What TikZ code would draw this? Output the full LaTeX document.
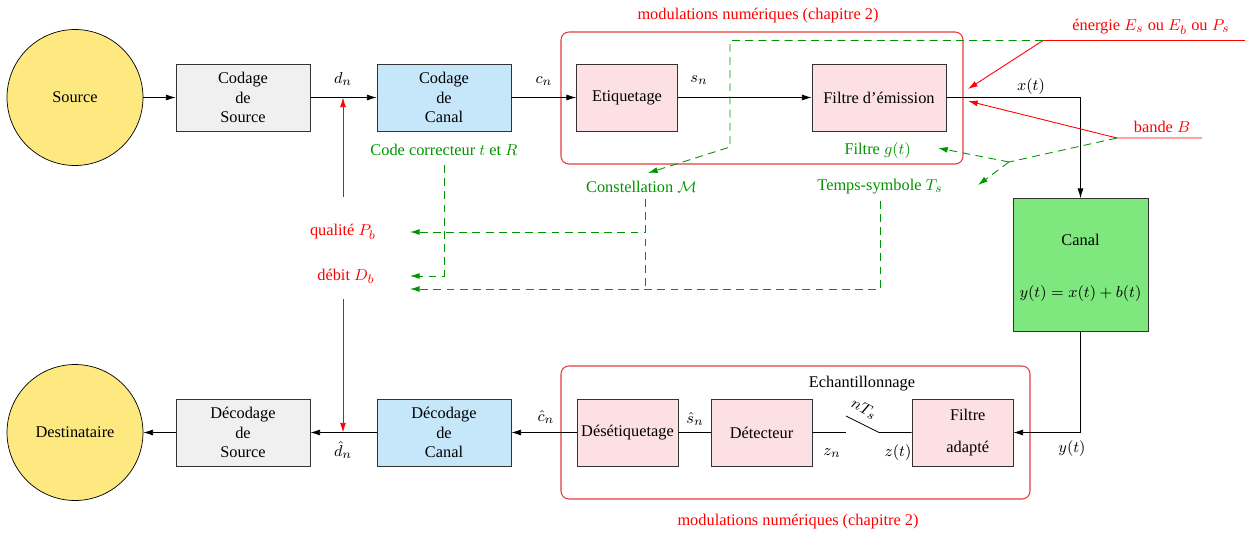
\documentclass[tikz,border=0pt]{standalone}
\usepackage{fontspec}
\setmainfont{Liberation Serif}
\usepackage{amsmath}
\usetikzlibrary{arrows,arrows.meta,positioning}

\definecolor{jaune}{RGB}{253,233,128}
\definecolor{gris}{RGB}{240,240,240}
\definecolor{bleu}{RGB}{198,230,250}
\definecolor{rose}{RGB}{253,224,228}
\definecolor{vert}{RGB}{126,232,126}
\definecolor{vertf}{RGB}{0,148,0}
\definecolor{cadrer}{RGB}{228,60,60}

\begin{document}
\begin{tikzpicture}[x=0.02cm,y=-0.02cm,>={Latex[length=5.5pt,width=3.4pt]},
  every node/.style={font=\fontsize{9.3}{11}\selectfont},
  bloc/.style={draw=black!80,line width=0.5pt,fill=#1,minimum width=2.68cm,
    minimum height=1.34cm,align=center,inner sep=1pt},
  petit/.style={minimum width=2.02cm},
  cercle/.style={circle,draw,fill=jaune,minimum size=2.72cm},
  cadre/.style={draw=cadrer,line width=0.6pt,rounded corners=4.5pt},
  rouge/.style={text=red},
  verte/.style={text=vertf},
  flred/.style={draw=red,line width=0.5pt},
  pointille/.style={draw=vertf,line width=0.5pt,dash pattern=on 4.5pt off 3pt}]
\useasboundingbox (0,0) rectangle (1245,532);

% The frames of the two modulation parts
\draw[cadre] (561,32) rectangle (963,164);
\draw[cadre] (561,366) rectangle (1030,499);
\node[rouge] (modh) at (758,16) {modulations numériques (chapitre 2)};
\node[rouge] (modb) at (798,522) {modulations numériques (chapitre 2)};

% The emission chain
\node[cercle] (src) at (75,97.5) {Source};
\node[bloc=gris] (cs) at (243,97.5) {Codage\\de\\Source};
\node[bloc=bleu] (cc) at (444,97.5) {Codage\\de\\Canal};
\node[bloc=rose,petit] (etiq) at (627,97.5) {Etiquetage};
\node[bloc=rose] (fe) at (879,97.5) {Filtre d'émission};
\node[bloc=vert,minimum width=2.7cm,minimum height=2.66cm] (canal) at (1080.5,265) {};
\node (canalt) at (1080.5,240) {Canal};
\node (canaleq) at (1080.5,294) {$y(t)=x(t)+b(t)$};

% The reception chain
\node[bloc=rose,petit] (fa) at (962.5,432.5) {\hspace*{6pt}Filtre\\[7pt]\hspace*{6pt}adapté};
\node[bloc=rose,petit] (det) at (761.5,432.5) {Détecteur};
\node[bloc=rose,petit,inner sep=0pt] (deset) at (627.5,432.5) {Désétiquetage};
\node[bloc=bleu] (dcc) at (444,432.5) {Décodage\\de\\Canal};
\node[bloc=gris] (dcs) at (243,432.5) {Décodage\\de\\Source};
\node[cercle] (dest) at (75,432.5) {Destinataire};

% The signals
\node (dn) at (343,79) {$d_n$};
\node (cn) at (544,81) {$c_n$};
\node (sn) at (699,80) {$s_n$};
\node (xt) at (1031,87) {$x(t)$};
\node (yt) at (1072,449) {$y(t)$};
\node (zt) at (898,453) {$z(t)$};
\node (zn) at (832,453) {$z_n$};
\node (shn) at (695,419) {$\hat{s}_n$};
\node (chn) at (546,417) {$\hat{c}_n$};
\node (dhn) at (343,450) {$\hat{d}_n$};
\node (ech) at (862,384) {Echantillonnage};
\node[rotate=-27,inner sep=1pt] (nts) at (864,409) {$nT_s$};

% The links
\draw[->] (src) -- (cs);
\draw[->] (cs) -- (cc);
\draw[->] (cc) -- (etiq);
\draw[->] (etiq) -- (fe);
\draw[->] (fe) -| (canal);
\draw[->] (canal) |- (fa);
\coordinate (k1) at (846,432.5);
\coordinate (k2) at (846,416);
\coordinate (k3) at (879,432.5);
\draw (det) -- (k1);
\draw (k2) -- (k3) -- (fa);
\draw (det) -- (deset);
\draw[->] (deset) -- (dcc);
\draw[->] (dcc) -- (dcs);
\draw[->] (dcs) -- (dest);

% The constraints
\node[rouge] (qual) at (343,232) {qualité $P_b$};
\node[rouge] (debit) at (346,276) {débit $D_b$};
\node[rouge] (energie) at (1151,27) {énergie $E_s$ ou $E_b$ ou $P_s$};
\node[rouge] (bande) at (1162,127) {bande $B$};
\coordinate (q0) at (343,197);
\coordinate (d0) at (343,299);
\draw[flred,->] (q0) -- (dn |- cs);
\draw[flred,->] (d0) -- (dhn |- dcs);
\coordinate (e0) at (1245,40.5);
\coordinate (e1) at (1043,40.5);
\coordinate (e2) at (968,89);
\draw[flred,->] (e0) -- (e1) -- (e2);
\coordinate (b0) at (1202,138);
\coordinate (b1) at (1117,138);
\coordinate (b2) at (968,101);
\draw[flred,->] (b0) -- (b1) -- (b2);

% The parameters
\node[verte] (code) at (444,150) {Code correcteur $t$ et $R$};
\node[verte] (constel) at (641.5,187) {Constellation $\mathcal{M}$};
\node[verte] (gt) at (877.7,150.5) {Filtre $g(t)$};
\node[verte] (tsym) at (880,187) {Temps-symbole $T_s$};
\coordinate (m0) at (730,40.5);
\coordinate (m1) at (730,147);
\coordinate (m2) at (648,173);
\draw[pointille,->] (e1) -- (m0) -- (m1) -- (m2);
\coordinate (g0) at (1009,162);
\coordinate (g1) at (938,148);
\coordinate (t1) at (978,185);
\draw[pointille] (b1) -- (g0);
\draw[pointille,->] (g0) -- (g1);
\draw[pointille,->] (g0) -- (t1);
\coordinate (p1) at (410,232);
\coordinate (p2) at (410,276);
\coordinate (p3) at (410,289);
\coordinate (c0) at (444,165);
\coordinate (k0) at (645,199);
\coordinate (k4) at (645,289);
\draw[pointille,->] (c0) |- (p2);
\draw[pointille,->] (k0) |- (p1);
\draw[pointille] (k0) -- (k4);
\draw[pointille,->] (tsym.south) |- (p3);
\end{tikzpicture}
\end{document}
